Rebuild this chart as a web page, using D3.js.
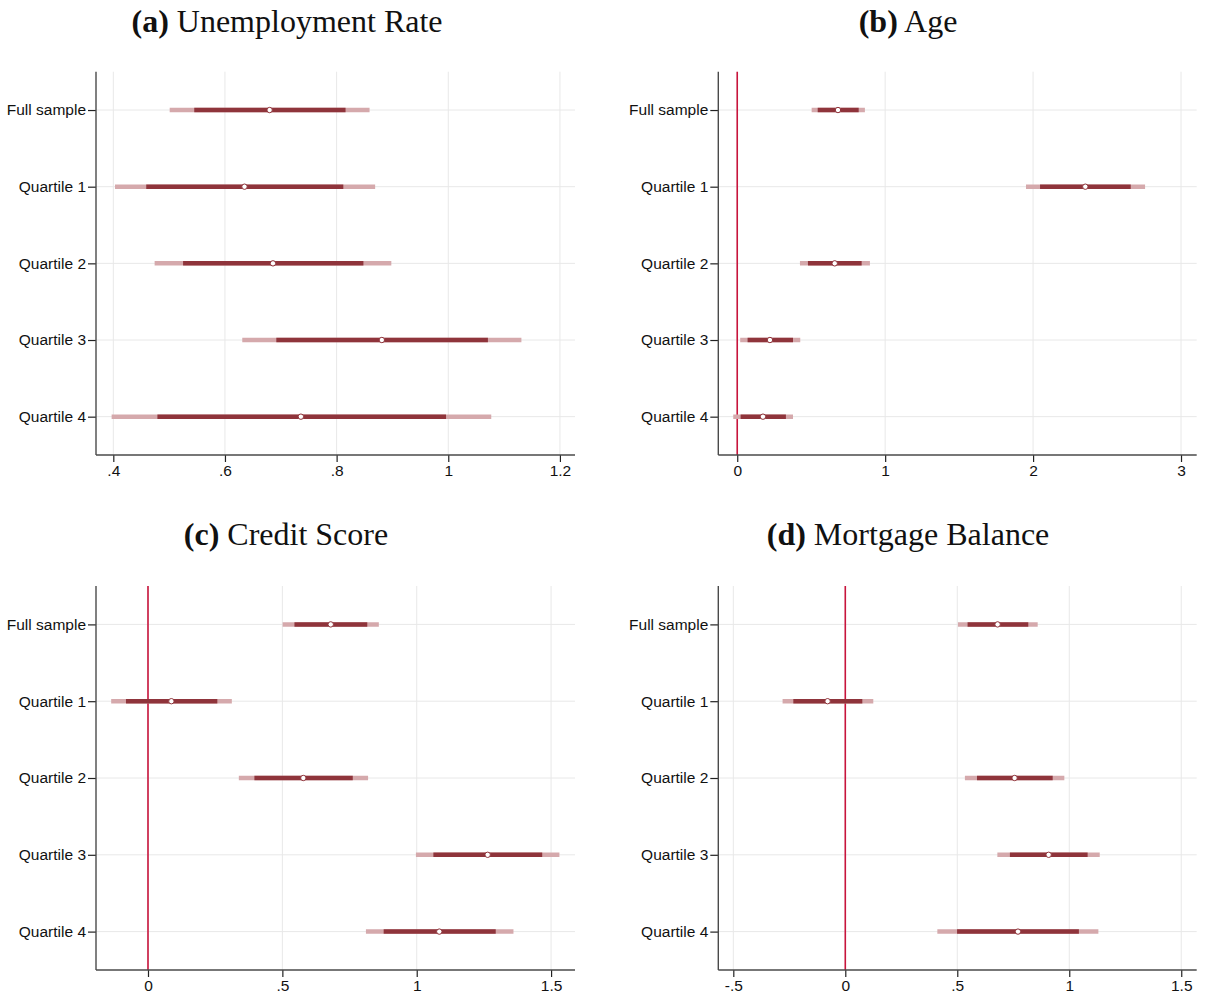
<!DOCTYPE html>
<html>
<head>
<meta charset="utf-8">
<script src="https://cdn.jsdelivr.net/npm/d3@7"></script>
<style>
  html, body { margin: 0; padding: 0; background: #fff; }
  svg { display: block; }
</style>
</head>
<body>
<svg id="chart" width="1209" height="1001"></svg>
<script>
// ---------------- DATA ----------------
const categories = ["Full sample", "Quartile 1", "Quartile 2", "Quartile 3", "Quartile 4"];

// (a) Unemployment Rate
const unempPoint = [0.680, 0.635, 0.686, 0.881, 0.736];
const unempCI95  = [[0.545, 0.816], [0.459, 0.812], [0.525, 0.848], [0.692, 1.071], [0.479, 0.996]];
const unempCI99  = [[0.501, 0.859], [0.403, 0.869], [0.474, 0.898], [0.631, 1.131], [0.397, 1.077]];
const unempTicks = [0.4, 0.6, 0.8, 1, 1.2];
const unempTickLabels = [".4", ".6", ".8", "1", "1.2"];

// (b) Age
const agePoint = [0.681, 2.353, 0.659, 0.221, 0.174];
const ageCI95  = [[0.544, 0.821], [2.047, 2.660], [0.478, 0.841], [0.070, 0.377], [0.023, 0.329]];
const ageCI99  = [[0.503, 0.863], [1.952, 2.757], [0.424, 0.897], [0.020, 0.426], [-0.027, 0.377]];
const ageTicks = [0, 1, 2, 3];
const ageTickLabels = ["0", "1", "2", "3"];

// (c) Credit Score
const creditPoint = [0.680, 0.087, 0.578, 1.264, 1.084];
const creditCI95  = [[0.545, 0.816], [-0.082, 0.258], [0.396, 0.762], [1.062, 1.467], [0.877, 1.294]];
const creditCI99  = [[0.501, 0.859], [-0.137, 0.312], [0.338, 0.819], [0.997, 1.531], [0.811, 1.360]];
const creditTicks = [0, 0.5, 1, 1.5];
const creditTickLabels = ["0", ".5", "1", "1.5"];

// (d) Mortgage Balance
const mortPoint = [0.680, -0.079, 0.756, 0.908, 0.771];
const mortCI95  = [[0.546, 0.817], [-0.232, 0.076], [0.588, 0.926], [0.735, 1.082], [0.499, 1.043]];
const mortCI99  = [[0.503, 0.859], [-0.280, 0.125], [0.534, 0.978], [0.679, 1.136], [0.411, 1.130]];
const mortTicks = [-0.5, 0, 0.5, 1, 1.5];
const mortTickLabels = ["-.5", "0", ".5", "1", "1.5"];

const panelTitles = [["(a)", "Unemployment Rate"], ["(b)", "Age"], ["(c)", "Credit Score"], ["(d)", "Mortgage Balance"]];

// ---------------- LAYOUT ----------------
const panels = [
  { title: panelTitles[0], point: unempPoint, ci95: unempCI95, ci99: unempCI99, ticks: unempTicks, labels: unempTickLabels,
    domain: [0.369, 1.227], zeroLine: false, x0: 96, x1: 575, y0: 71.7, y1: 455, cx: 287, ty: 31.5 },
  { title: panelTitles[1], point: agePoint, ci95: ageCI95, ci99: ageCI99, ticks: ageTicks, labels: ageTickLabels,
    domain: [-0.128, 3.106], zeroLine: true, x0: 718.3, x1: 1196.7, y0: 71.7, y1: 455, cx: 908, ty: 31.5 },
  { title: panelTitles[2], point: creditPoint, ci95: creditCI95, ci99: creditCI99, ticks: creditTicks, labels: creditTickLabels,
    domain: [-0.1935, 1.589], zeroLine: true, x0: 96, x1: 575, y0: 586, y1: 970, cx: 286, ty: 545 },
  { title: panelTitles[3], point: mortPoint, ci95: mortCI95, ci99: mortCI99, ticks: mortTicks, labels: mortTickLabels,
    domain: [-0.567, 1.569], zeroLine: true, x0: 718.3, x1: 1196.7, y0: 586, y1: 970, cx: 908, ty: 545 }
];

const darkColor = "#8f343b";
const lightColor = "#d5a9ac";
const gridColor = "#e8e8e8";
const zeroColor = "#c8143c";
const axisColor = "#4a4a4a";
const sansFont = "'Liberation Sans', Arial, Helvetica, sans-serif";
const serifFont = "'Liberation Serif', 'Times New Roman', serif";

const svg = d3.select("#chart");

panels.forEach(p => {
  const g = svg.append("g");
  const x = d3.scaleLinear().domain(p.domain).range([p.x0, p.x1]);
  const y = d3.scaleLinear().domain([0.5, 5.5]).range([p.y0, p.y1]);
  const rows = categories.map((c, i) => ({ cat: c, idx: i + 1, pt: p.point[i], c95: p.ci95[i], c99: p.ci99[i] }));

  // title
  const t = g.append("text")
    .attr("x", p.cx).attr("y", p.ty)
    .attr("text-anchor", "middle")
    .style("font-family", serifFont)
    .style("font-size", "32px")
    .attr("fill", "#111");
  t.append("tspan").attr("font-weight", "bold").text(p.title[0]);
  t.append("tspan").text(" " + p.title[1]);

  // vertical grid lines
  g.append("g").selectAll("line").data(p.ticks).join("line")
    .attr("x1", d => x(d)).attr("x2", d => x(d))
    .attr("y1", p.y0).attr("y2", p.y1)
    .attr("stroke", gridColor).attr("stroke-width", 1);

  // horizontal grid lines
  g.append("g").selectAll("line").data(rows).join("line")
    .attr("x1", p.x0).attr("x2", p.x1)
    .attr("y1", d => y(d.idx)).attr("y2", d => y(d.idx))
    .attr("stroke", gridColor).attr("stroke-width", 1);

  // zero reference line
  if (p.zeroLine) {
    g.append("line")
      .attr("x1", x(0)).attr("x2", x(0))
      .attr("y1", p.y0).attr("y2", p.y1)
      .attr("stroke", zeroColor).attr("stroke-width", 1.6);
  }

  // 99% CI (light)
  g.append("g").selectAll("line").data(rows).join("line")
    .attr("x1", d => x(d.c99[0])).attr("x2", d => x(d.c99[1]))
    .attr("y1", d => y(d.idx)).attr("y2", d => y(d.idx))
    .attr("stroke", lightColor).attr("stroke-width", 4.5);

  // 95% CI (dark)
  g.append("g").selectAll("line").data(rows).join("line")
    .attr("x1", d => x(d.c95[0])).attr("x2", d => x(d.c95[1]))
    .attr("y1", d => y(d.idx)).attr("y2", d => y(d.idx))
    .attr("stroke", darkColor).attr("stroke-width", 4.5);

  // point estimates
  g.append("g").selectAll("circle").data(rows).join("circle")
    .attr("cx", d => x(d.pt)).attr("cy", d => y(d.idx))
    .attr("r", 2.7)
    .attr("fill", "#fff").attr("stroke", darkColor).attr("stroke-width", 1);

  // y axis
  const yAxis = d3.axisLeft(y).tickValues(rows.map(r => r.idx))
    .tickFormat(v => categories[v - 1]).tickSize(8).tickPadding(2);
  const ya = g.append("g").attr("transform", `translate(${p.x0},0)`).call(yAxis);
  ya.select(".domain").remove();
  ya.selectAll(".tick line").attr("stroke", "#222").attr("stroke-width", 1.2);
  ya.selectAll(".tick text").style("font-family", sansFont).style("font-size", "15.5px").attr("fill", "#111");
  g.append("line").attr("x1", p.x0).attr("x2", p.x0).attr("y1", p.y0).attr("y2", p.y1)
    .attr("stroke", axisColor).attr("stroke-width", 1.4);

  // x axis
  const xAxis = d3.axisBottom(x).tickValues(p.ticks)
    .tickFormat((v, i) => p.labels[i]).tickSize(7).tickPadding(3);
  const xa = g.append("g").attr("transform", `translate(0,${p.y1})`).call(xAxis);
  xa.select(".domain").remove();
  xa.selectAll(".tick line").attr("stroke", "#222").attr("stroke-width", 1.2);
  xa.selectAll(".tick text").style("font-family", sansFont).style("font-size", "15.5px").attr("fill", "#111");
  g.append("line").attr("x1", p.x0).attr("x2", p.x1).attr("y1", p.y1).attr("y2", p.y1)
    .attr("stroke", axisColor).attr("stroke-width", 1.4);
});
</script>
</body>
</html>
